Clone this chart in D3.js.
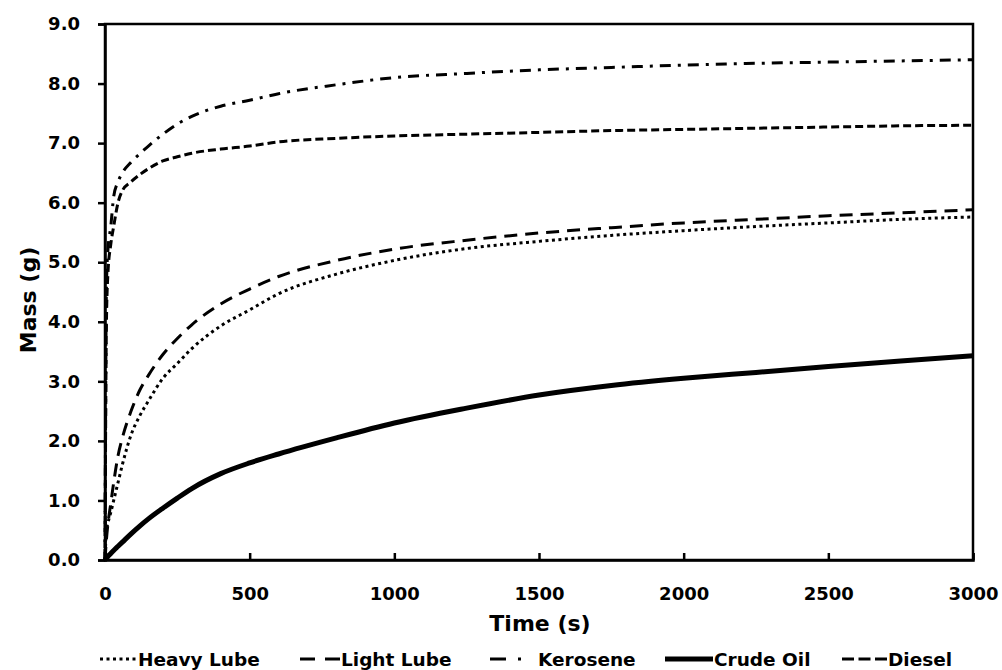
<!DOCTYPE html>
<html>
<head>
<meta charset="utf-8">
<script src="https://cdn.jsdelivr.net/npm/d3@7"></script>
<style>
  body { margin: 0; background: #fff; }
  svg text { font-family: "DejaVu Sans", sans-serif; font-weight: bold; fill: #000; }
</style>
</head>
<body>
<div id="chart"></div>
<script>
// time points (s), shared by every series
var times = [0, 5, 10, 20, 30, 45, 60, 90, 120, 150, 200, 250, 300, 400, 500, 600, 800, 1000, 1250, 1500, 1750, 2000, 2250, 2500, 2750, 3000];

// mass (g)
var heavyLube = [0, 0.5, 0.62, 0.8, 1.0, 1.3, 1.6, 2.1, 2.42, 2.67, 3.05, 3.3, 3.55, 3.93, 4.2, 4.47, 4.8, 5.03, 5.23, 5.35, 5.45, 5.53, 5.6, 5.66, 5.72, 5.76];
var lightLube = [0, 0.35, 0.6, 0.95, 1.3, 1.75, 2.05, 2.5, 2.85, 3.1, 3.45, 3.72, 3.95, 4.3, 4.55, 4.76, 5.03, 5.22, 5.37, 5.49, 5.58, 5.66, 5.72, 5.78, 5.83, 5.88];
var kerosene  = [0, 4.6, 5.2, 5.6, 6.1, 6.35, 6.5, 6.68, 6.82, 6.95, 7.15, 7.32, 7.45, 7.62, 7.72, 7.83, 7.98, 8.1, 8.17, 8.23, 8.27, 8.31, 8.34, 8.36, 8.38, 8.4];
var crudeOil  = [0, 0.03, 0.06, 0.11, 0.16, 0.23, 0.3, 0.44, 0.57, 0.69, 0.87, 1.04, 1.2, 1.45, 1.63, 1.78, 2.05, 2.3, 2.55, 2.77, 2.93, 3.05, 3.15, 3.25, 3.34, 3.43];
var diesel    = [0, 4.0, 4.8, 5.3, 5.6, 6.0, 6.2, 6.35, 6.47, 6.57, 6.7, 6.77, 6.83, 6.9, 6.95, 7.02, 7.08, 7.12, 7.15, 7.18, 7.21, 7.23, 7.25, 7.27, 7.29, 7.3];

var seriesNames = ["Heavy Lube", "Light Lube", "Kerosene", "Crude Oil", "Diesel"];
var seriesValues = [heavyLube, lightLube, kerosene, crudeOil, diesel];

var xTicks = [0, 500, 1000, 1500, 2000, 2500, 3000];
var yTicks = [0, 1, 2, 3, 4, 5, 6, 7, 8, 9];

// line looks per series (legend samples draw their dashes a bit longer)
var styles = {
    "Heavy Lube": { width: 3, dash: "3,3.5",    legDash: "3,3.5",      x: 100, len: 37, tx: 138 },
    "Light Lube": { width: 3, dash: "13,8",     legDash: "15,10",      x: 300, len: 40, tx: 341 },
    "Kerosene":   { width: 3, dash: "11,7,3,7", legDash: "16,12,3,20", x: 490, len: 33, tx: 538 },
    "Crude Oil":  { width: 5, dash: null,       legDash: null,         x: 665, len: 48, tx: 714 },
    "Diesel":     { width: 3, dash: "8,4",      legDash: "12,4.5",     x: 842, len: 45, tx: 888 }
};

var W = 1002, H = 670;
var margin = { left: 105, top: 24, right: 29, bottom: 110 };
var pw = W - margin.left - margin.right,
    ph = H - margin.top - margin.bottom;

var svg = d3.select("#chart").append("svg").attr("width", W).attr("height", H);
var g = svg.append("g").attr("transform", "translate(" + margin.left + "," + margin.top + ")");

var x = d3.scaleLinear().domain([0, 3000]).range([0, pw]);
var y = d3.scaleLinear().domain([0, 9]).range([ph, 0]);

var line = d3.line()
    .x(function(d) { return x(d[0]); })
    .y(function(d) { return y(d[1]); })
    .curve(d3.curveMonotoneX);

seriesNames.forEach(function(name, i) {
    var pts = times.map(function(t, j) { return [t, seriesValues[i][j]]; });
    var s = styles[name];
    g.append("path")
        .datum(pts)
        .attr("fill", "none")
        .attr("stroke", "#000")
        .attr("stroke-width", s.width)
        .attr("stroke-dasharray", s.dash)
        .attr("d", line);
});

// frame
g.append("rect")
    .attr("width", pw).attr("height", ph)
    .attr("fill", "none").attr("stroke", "#000").attr("stroke-width", 2.5);

var yAxis = g.append("g")
    .call(d3.axisLeft(y).tickValues(yTicks).tickFormat(d3.format(".1f")).tickSize(7).tickPadding(18));
var xAxis = g.append("g")
    .attr("transform", "translate(0," + ph + ")")
    .call(d3.axisBottom(x).tickValues(xTicks).tickFormat(d3.format("d")).tickSize(-7).tickPadding(27));

[xAxis, yAxis].forEach(function(ax) {
    ax.select(".domain").attr("stroke-width", 2.5);
    ax.selectAll(".tick line").attr("stroke-width", 2.5);
    ax.selectAll("text").style("font-size", "18px").attr("font-family", null);
});

svg.append("text")
    .attr("x", 540).attr("y", 631)
    .attr("text-anchor", "middle")
    .style("font-size", "22px")
    .text("Time (s)");

svg.append("text")
    .attr("transform", "translate(36,300) rotate(-90)")
    .attr("text-anchor", "middle")
    .style("font-size", "22px")
    .text("Mass  (g)");

// legend
var legend = svg.append("g").attr("transform", "translate(0,659)");
seriesNames.forEach(function(name) {
    var s = styles[name];
    legend.append("line")
        .attr("x1", s.x).attr("x2", s.x + s.len)
        .attr("y1", 0).attr("y2", 0)
        .attr("stroke", "#000")
        .attr("stroke-width", s.width)
        .attr("stroke-dasharray", s.legDash);
    legend.append("text")
        .attr("x", s.tx).attr("y", 6.5)
        .style("font-size", "18.5px")
        .text(name);
});
</script>
</body>
</html>
